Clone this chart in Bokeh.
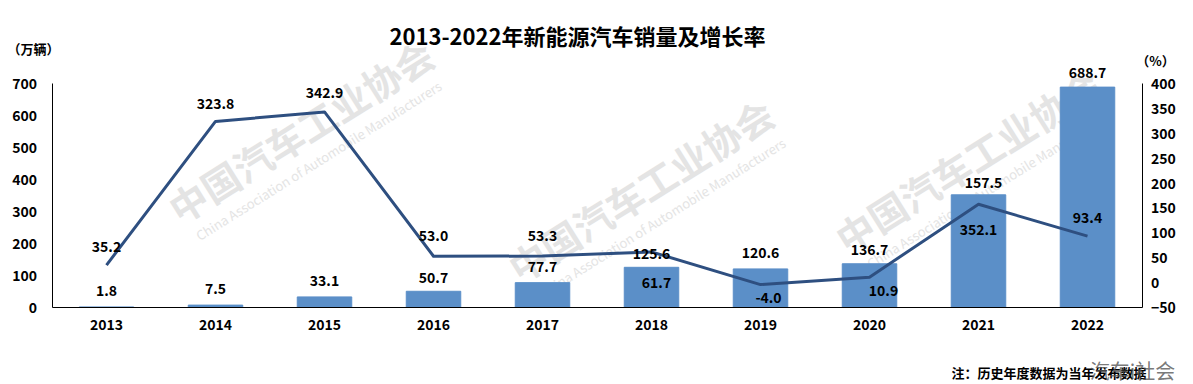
from bokeh.plotting import figure
from bokeh.models import (ColumnDataSource, Range1d, LinearAxis, Label,
                          FactorRange, FixedTicker)
from bokeh.embed import file_html
from bokeh.resources import INLINE
from bokeh.core.properties import value

# ---------------- data ----------------
years = ["2013", "2014", "2015", "2016", "2017",
         "2018", "2019", "2020", "2021", "2022"]
sales = [1.8, 7.5, 33.1, 50.7, 77.7, 125.6, 120.6, 136.7, 352.1, 688.7]      # 万辆
growth = [35.2, 323.8, 342.9, 53.0, 53.3, 61.7, -4.0, 10.9, 157.5, 93.4]     # %
sales_ticks = [0, 100, 200, 300, 400, 500, 600, 700]
growth_ticks = [-50, 0, 50, 100, 150, 200, 250, 300, 350, 400]

title_text = "2013-2022年新能源汽车销量及增长率"
left_unit = "（万辆）"
right_unit = "（%）"
note_text = "注：历史年度数据为当年发布数据"
stamp_text = "汽车i社会"
wm_cn = "中国汽车工业协会"
wm_en = "China Association of Automobile Manufacturers"

# ---------------- layout (pixels) ----------------
W, H = 1193, 384
AX_TOP, AX_BOT = 83, 307          # vertical extent of the value axes
CAT_W = 109                       # pixel width of one category
bar_dy = [-16, -17, -16, -14, -16, -14, -16, -14, 35, -15]
line_dy = [-19, -18, -19, -21, -21, 31, 13, 13, -22, -19]
line_dx = [0, 0, 0, 0, 0, 5, 8, 14, 5, 0]

FONT = "Noto Sans CJK SC"
BAR = "#5B8FC8"
LINE = "#2E4F80"

l_lo, l_hi = sales_ticks[0], sales_ticks[-1]
r_lo, r_hi = growth_ticks[0], growth_ticks[-1]
l_scale = (AX_BOT - AX_TOP) / (l_hi - l_lo)
r_scale = (AX_BOT - AX_TOP) / (r_hi - r_lo)
y_left = Range1d(l_lo - (H - AX_BOT) / l_scale, l_lo + AX_BOT / l_scale)
y_right = Range1d(r_lo - (H - AX_BOT) / r_scale, r_lo + AX_BOT / r_scale)
pad = (W - CAT_W * len(years)) / 2 / CAT_W

src = ColumnDataSource(dict(
    year=years, sales=sales, growth=growth,
    sales_txt=[f"{v:.1f}" for v in sales],
    growth_txt=[f"{v:.1f}" for v in growth],
    bar_dy=bar_dy, line_dy=line_dy, line_dx=line_dx,
))

p = figure(x_range=FactorRange(factors=years, range_padding=pad,
                               range_padding_units="absolute"),
           y_range=y_left, width=W, height=H,
           output_backend="svg", toolbar_location=None,
           x_axis_location=None, y_axis_location=None,
           min_border=0)
p.title.visible = False
p.extra_y_ranges = {"pct": y_right}
p.outline_line_color = None
p.xgrid.visible = False
p.ygrid.visible = False
p.background_fill_color = "white"
p.border_fill_color = "white"

from bokeh.models import CategoricalAxis


def style(ax, standoff):
    ax.axis_line_color = "black"
    ax.axis_line_width = 1
    ax.major_tick_line_color = None
    ax.minor_tick_line_color = None
    ax.major_tick_out = 0
    ax.major_tick_in = 0
    ax.major_label_standoff = standoff
    ax.major_label_text_font = FONT
    ax.major_label_text_font_style = "bold"
    ax.major_label_text_font_size = "14px"
    ax.major_label_text_color = "black"


xax = CategoricalAxis(fixed_location=0, bounds=(0, len(years)))
style(xax, 11)
p.add_layout(xax, "below")

lax = LinearAxis(ticker=FixedTicker(ticks=sales_ticks), fixed_location=0,
                 bounds=(l_lo, l_hi))
style(lax, 15)
p.add_layout(lax, "left")

rax = LinearAxis(y_range_name="pct", ticker=FixedTicker(ticks=growth_ticks),
                 fixed_location=len(years), bounds=(r_lo, r_hi))
style(rax, 9)
p.add_layout(rax, "right")

# watermarks (faint) -- screen coords from bottom-left of the frame
wm_kw = dict(x_units="screen", y_units="screen", text_align="center",
             text_baseline="middle", text_font=FONT, text_color="#e4e4e4",
             angle=0.56, level="underlay")
for (cx, cy), (ex, ey) in [((300, 130), (318, 160)),
                           ((640, 189), (662, 217)),
                           ((967, 160), (989, 188))]:
    p.add_layout(Label(x=cx, y=H - cy, text=wm_cn, text_font_size="38px",
                       text_font_style="bold", **wm_kw))
    p.add_layout(Label(x=ex, y=H - ey, text=wm_en, text_font_size="13px", **wm_kw))

# bars and line
p.vbar(x="year", top="sales", width=0.5, source=src, color=BAR)
p.line(x="year", y="growth", y_range_name="pct", source=src,
       line_width=3, line_color=LINE, line_join="round")

# value labels
txt_kw = dict(text_font=value(FONT), text_font_style="bold",
              text_font_size="14px", text_color="black",
              text_align="center", text_baseline="middle")
p.text(x="year", y="sales", text="sales_txt", y_offset="bar_dy", source=src, **txt_kw)
p.text(x="year", y="growth", text="growth_txt", y_offset="line_dy",
       x_offset="line_dx", y_range_name="pct", source=src, **txt_kw)


def add_text(x, y, text, size, align="center", bold=True, color="black", alpha=1.0):
    p.add_layout(Label(x=x, y=H - y, text=text, x_units="screen", y_units="screen",
                       text_align=align, text_baseline="middle", text_font=FONT,
                       text_font_style="bold" if bold else "normal",
                       text_font_size=size, text_color=color, text_alpha=alpha))


add_text(577, 34, title_text, "22px")
add_text(33, 48, left_unit, "13px")
add_text(1155, 60, right_unit, "13px")
add_text(951, 372, note_text, "13px", align="left")
add_text(1132, 370, stamp_text, "20px", bold=False, color="#555555", alpha=0.8)

open("out.html", "w").write(file_html(p, INLINE))
